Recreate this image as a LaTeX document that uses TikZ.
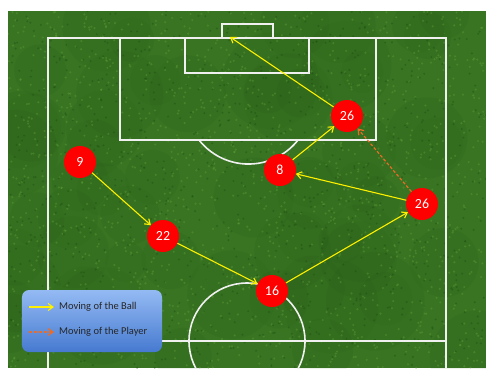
\documentclass[tikz,border=0pt]{standalone}
\usepackage{fontspec}
\setmainfont{Carlito}
\usetikzlibrary{
	arrows.meta,
	positioning
}

\definecolor{grass}{RGB}{56,116,34}
\definecolor{grasslight}{RGB}{96,160,56}
\definecolor{grassdark}{RGB}{28,76,18}
\definecolor{ballline}{RGB}{255,240,0}
\definecolor{runline}{RGB}{236,108,38}
\definecolor{legendtop}{RGB}{148,186,243}
\definecolor{legendbot}{RGB}{70,122,208}

\tikzset{
	pitchline/.style={draw=white!88!gray, line width=1.6bp},
	player/.style={circle, fill=red, minimum size=32bp, inner sep=0pt,
		text=white, font=\fontsize{14}{14}\selectfont},
	ballpass/.style={draw=ballline, line width=1.1bp,
		-{Straight Barb[length=5bp,width=7bp]}},
	playerrun/.style={draw=runline, line width=1.2bp, dash pattern=on 3bp off 2bp,
		-{Straight Barb[length=5bp,width=7bp]}},
	legendtext/.style={font=\fontsize{10.5}{12}\selectfont, text=black!85,
		anchor=west, inner sep=0pt}
}

\begin{document}
\begin{tikzpicture}[x=1bp, y=-1bp]
\useasboundingbox (0,0) rectangle (486,368);

% Grass
\fill[grass] (8,11) rectangle (486,368);
\begin{scope}
\clip (8,11) rectangle (486,368);
\pgfmathsetseed{11}
\foreach \i in {1,...,60}{
	\pgfmathsetmacro\gx{8+478*rnd}
	\pgfmathsetmacro\gy{11+357*rnd}
	\pgfmathsetmacro\gr{20+30*rnd}
	\fill[grassdark, opacity=0.08] (\gx,\gy) circle[radius=\gr];
}
\foreach \i in {1,...,1500}{
	\pgfmathsetmacro\gx{8+478*rnd}
	\pgfmathsetmacro\gy{11+357*rnd}
	\fill[grasslight, opacity=0.4] (\gx,\gy) circle[radius=1.2];
}
\foreach \i in {1,...,1000}{
	\pgfmathsetmacro\gx{8+478*rnd}
	\pgfmathsetmacro\gy{11+357*rnd}
	\fill[grassdark, opacity=0.4] (\gx,\gy) circle[radius=1.1];
}
\end{scope}

% Pitch markings
\draw[pitchline] (48,368) -- (48,38) -- (446,38) -- (446,368);
\draw[pitchline] (48,341) -- (446,341);
\draw[pitchline] (120,38) rectangle (376,140);
\draw[pitchline] (185,38) rectangle (309,73);
\draw[pitchline] (222,38) -- (222,24) -- (273,24) -- (273,38);
\draw[pitchline] (199,140) arc[start angle=141.8, end angle=38.2, radius=63];
\draw[pitchline] (247,341) circle[radius=58];

% Players
\node[player] (p9) at (80,162) {9};
\node[player] (p22) at (163,236) {22};
\node[player] (p16) at (272,291) {16};
\node[player] (p8) at (280,170) {8};
\node[player] (p26a) at (347,116) {26};
\node[player] (p26b) at (422,204) {26};
\coordinate (goalmouth) at (230,37);

% Passes and run
\draw[ballpass] (p9) -- (p22);
\draw[ballpass] (p22) -- (p16);
\draw[ballpass] (p16) -- (p26b);
\draw[ballpass] (p26b) -- (p8);
\draw[ballpass] (p8) -- (p26a);
\draw[ballpass] (p26a) -- (goalmouth);
\draw[playerrun] (p26b) -- (p26a);

% Legend
\node[shade, top color=legendtop, bottom color=legendbot, rounded corners=7bp,
	minimum width=140bp, minimum height=62bp, inner sep=0pt] (legend) at (92,321) {};
\coordinate (ballkeyA) at (29,307);
\coordinate (ballkeyB) at (54,307);
\coordinate (runkeyA) at (29,332);
\coordinate (runkeyB) at (54,332);
\draw[ballpass] (ballkeyA) -- (ballkeyB);
\draw[playerrun] (runkeyA) -- (runkeyB);
\node[legendtext] (balltext) at (59,307) {Moving of the Ball};
\node[legendtext] (runtext) at (59,332) {Moving of the Player};

\end{tikzpicture}
\end{document}
